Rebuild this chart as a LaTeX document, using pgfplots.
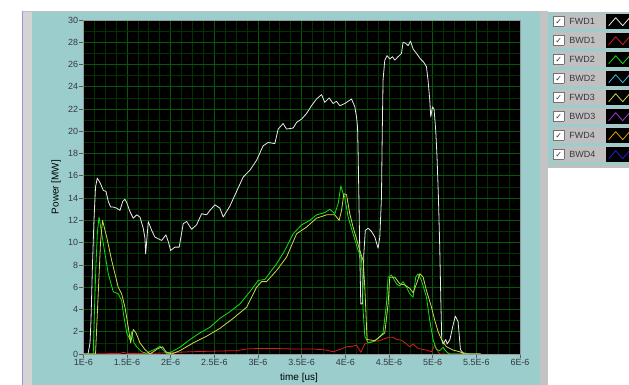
\documentclass[border=0pt]{standalone}
\usepackage{fontspec}
\setmainfont{Liberation Sans}
\newfontfamily\dejavu{DejaVu Sans}
\usepackage{pgfplots}
\pgfplotsset{compat=1.18}
\definecolor{panel}{RGB}{155,205,205}
\definecolor{lgray}{RGB}{212,212,212}
\definecolor{rowgray}{RGB}{192,192,192}
\definecolor{lav}{RGB}{150,150,215}
\definecolor{gmaj}{RGB}{5,88,5}
\definecolor{gmin}{RGB}{0,50,0}
\definecolor{cfwdone}{RGB}{235,235,235}
\definecolor{cbwdone}{RGB}{215,30,30}
\definecolor{cfwdtwo}{RGB}{20,225,20}
\definecolor{cbwdtwo}{RGB}{60,190,230}
\definecolor{cfwdthree}{RGB}{200,220,80}
\definecolor{cbwdthree}{RGB}{160,60,210}
\definecolor{cfwdfour}{RGB}{225,165,0}
\definecolor{cbwdfour}{RGB}{30,30,220}
\definecolor{txt}{RGB}{55,55,65}
\newcommand\chk{{\setlength{\fboxsep}{1bp}\setlength{\fboxrule}{0.6bp}\fcolorbox{black!55}{white}{\makebox[8bp][c]{\raisebox{0pt}[7bp][1bp]{\dejavu\fontsize{8}{8}\selectfont\color{txt}✓}}}}}
\begin{document}
\begin{tikzpicture}
\useasboundingbox (0,0) rectangle (629bp,385bp);
\fill[white] (0,0) rectangle (629bp,385bp);
% left frame
\fill[lgray] (23.3bp,0) rectangle (32bp,372.7bp);
\fill[lgray!90!black] (22bp,372.7bp) rectangle (540bp,374bp);
\draw[lav, line width=1.4bp] (22.6bp,0) -- (22.6bp,374bp);
\fill[panel] (32bp,0) rectangle (540bp,372.7bp);
% right side
\fill[lgray!92!black] (540bp,0) rectangle (548bp,374bp);
\fill[panel] (548bp,220bp) rectangle (629bp,373bp);
\foreach \i in {0,...,7} {
  \fill[rowgray] (552.5bp,{(373-19*\i-17)*1bp}) rectangle (629bp,{(373-19*\i-1.5)*1bp});
}
\fill[black!25] (548bp,217bp) rectangle (629bp,220bp);
\begin{axis}[
  at={(83.3bp,31bp)}, anchor=south west,
  width=436.7bp, height=334bp, scale only axis,
  xmin=1, xmax=6, ymin=0, ymax=30,
  axis background/.style={fill=black},
  xtick={1,1.5,...,6},
  xticklabels={1E-6,1.5E-6,2E-6,2.5E-6,3E-6,3.5E-6,4E-6,4.5E-6,5E-6,5.5E-6,6E-6},
  ytick={0,2,...,30},
  minor x tick num=3, minor y tick num=1,
  grid=both,
  major grid style={draw=gmaj, line width=0.8bp},
  minor grid style={draw=gmin, line width=0.7bp},
  tick align=outside, tick pos=left,
  major tick length=4bp, minor tick length=0pt,
  tick style={draw=black!65, line width=0.8bp},
  axis line style={draw=black!40, line width=0.8bp},
  /pgf/number format/assume math mode=true,
  ticklabel style={font=\fontsize{9}{10}\selectfont, text=txt},
  yticklabel style={inner sep=1bp},
  xticklabel style={inner sep=1.5bp},
  xlabel={time [us]}, ylabel={Power [MW]},
  label style={font=\fontsize{9}{10}\selectfont, text=txt},
  every axis x label/.style={at={(axis description cs:0.494,-0.0725)}, anchor=center},
  every axis y label/.style={at={(axis description cs:-0.0622,0.5)}, rotate=90, anchor=center},
  legend style={at={(axis description cs:1.0687,1.024)}, anchor=north west, draw=none, fill=none,
    inner sep=0pt, row sep=0pt, column sep=8bp, font=\fontsize{9}{10}\selectfont, text=txt,
    nodes={inner xsep=3bp, inner ysep=0bp, text height=12bp, text depth=7bp}},
  legend cell align=left,
  legend plot pos=right,
  legend image code/.code={
    \fill[black] (0bp,-7bp) rectangle (26bp,7bp);
    \draw[#1, line width=0.8bp] (2bp,-4bp) -- (9bp,4bp) -- (16bp,-4bp) -- (23bp,4bp);
  },
  every axis plot/.append style={line width=0.8bp, line join=round},
]
% FWD1
\addplot[cfwdone] table {
1.000 0
1.054 0
1.077 1.0
1.088 3
1.105 8
1.122 12
1.140 15
1.160 15.8
1.191 15.4
1.229 14.7
1.260 14.6
1.286 13.7
1.313 13.2
1.343 13.2
1.382 13.1
1.420 12.9
1.451 13.7
1.477 13.9
1.497 13.6
1.534 12.8
1.572 12.2
1.611 12.5
1.649 12.3
1.686 11.3
1.706 10.4
1.714 9.0
1.744 11.9
1.783 11.1
1.820 10.5
1.897 10.2
1.946 10.7
1.973 10.1
2.000 9.3
2.049 9.6
2.098 9.6
2.144 11.7
2.183 11.9
2.240 11.2
2.297 11.6
2.355 12.6
2.412 12.5
2.450 12.9
2.507 13.4
2.564 13.1
2.602 12.3
2.679 13.3
2.755 14.6
2.831 15.9
2.907 16.5
2.984 17.4
3.059 18.7
3.117 19.0
3.193 18.9
3.231 20.2
3.288 20.7
3.327 20.2
3.403 20.3
3.442 20.8
3.499 21.1
3.556 21.6
3.613 22.3
3.670 22.9
3.728 23.3
3.765 22.6
3.815 23.0
3.860 22.5
3.899 22.7
3.937 22.3
3.994 22.5
4.051 22.8
4.071 22.9
4.109 22.2
4.128 21.3
4.140 20.4
4.146 18.3
4.154 14.7
4.166 9.0
4.177 4.5
4.195 4.5
4.212 9.0
4.229 11.1
4.261 11.3
4.300 11.0
4.338 10.5
4.375 9.5
4.395 10.5
4.414 14.1
4.423 20.0
4.432 24.6
4.452 26.4
4.478 26.8
4.509 26.5
4.540 26.7
4.566 26.4
4.604 26.7
4.643 27.0
4.661 28.0
4.692 27.9
4.719 27.7
4.746 28.1
4.776 27.4
4.815 27.0
4.860 26.5
4.898 26.2
4.929 25.8
4.947 24.6
4.967 22.8
4.978 21.3
4.998 22.2
5.016 22.0
5.035 20.1
5.050 17.7
5.066 14.1
5.081 9.6
5.093 5.1
5.104 1.3
5.119 0.9
5.150 1.3
5.166 0.9
5.198 1.3
5.228 2.4
5.259 3.4
5.291 2.9
5.302 1.9
5.318 0.4
5.348 0.1
5.424 0
5.550 0
};
\addlegendentry{\chk\hspace{5bp}FWD1}
% BWD1
\addplot[cbwdone] table {
1.000 0
1.040 0
1.420 0.05
1.458 0.15
1.510 0.05
1.763 0.05
1.990 0.12
2.220 0.2
2.564 0.27
2.755 0.3
2.870 0.45
3.022 0.5
3.174 0.5
3.403 0.45
3.632 0.45
3.785 0.35
3.860 0.2
3.937 0.4
4.014 0.65
4.089 0.7
4.128 0.8
4.177 0.15
4.223 0.9
4.292 1.1
4.395 1.2
4.490 1.5
4.547 1.5
4.586 1.3
4.643 1.25
4.700 0.9
4.738 0.65
4.776 0.9
4.833 0.5
4.929 0.35
4.987 0.2
5.025 0.8
5.063 0.2
5.081 0
5.550 0
};
\addlegendentry{\chk\hspace{5bp}BWD1}
% FWD2
\addplot[cfwdtwo] table {
1.000 0
1.114 0
1.128 4
1.145 8
1.162 11
1.180 12.3
1.211 10.8
1.248 9.0
1.286 7.2
1.343 5.6
1.400 5.4
1.439 4.8
1.458 3.7
1.497 1.9
1.534 1.3
1.554 2.0
1.580 1.0
1.611 0.65
1.668 0.2
1.725 0.06
1.783 0.3
1.840 0.5
1.878 0.7
1.915 0.35
1.961 0
2.011 0.2
2.106 0.6
2.221 1.3
2.335 1.9
2.450 2.4
2.564 3.2
2.679 3.8
2.793 4.5
2.908 5.6
3.002 6.6
3.079 6.7
3.136 7.3
3.213 8.1
3.307 9.3
3.403 10.8
3.499 11.6
3.594 12.0
3.670 12.5
3.765 12.7
3.823 13.0
3.880 12.6
3.918 13.5
3.949 15.1
3.975 14.4
3.993 14.1
4.032 12.3
4.089 10.8
4.146 9.3
4.185 8.7
4.197 6.0
4.204 3.9
4.223 1.6
4.261 1.0
4.318 1.1
4.375 1.4
4.432 1.9
4.471 4.5
4.490 6.9
4.528 7.1
4.586 6.3
4.624 6.1
4.661 6.5
4.700 6.0
4.738 5.4
4.776 5.1
4.806 6.9
4.833 7.2
4.872 6.6
4.929 5.1
4.967 3.0
5.005 1.3
5.043 0.4
5.081 0.3
5.119 0.6
5.158 0.2
5.196 0
5.550 0
};
\addlegendentry{\chk\hspace{5bp}FWD2}
% BWD2
\addplot[cbwdtwo] table {
1.000 0
5.550 0
};
\addlegendentry{\chk\hspace{5bp}BWD2}
% FWD3
\addplot[cfwdthree] table {
1.000 0
1.140 0
1.157 3
1.180 7
1.197 10
1.220 12.0
1.268 10.5
1.325 8.4
1.400 6.0
1.439 5.4
1.477 4.2
1.515 2.4
1.542 1.0
1.572 2.2
1.603 1.9
1.649 1.0
1.706 0.4
1.763 0
1.858 0.5
1.908 0.65
1.946 0.2
2.011 0
2.106 0.3
2.259 1.0
2.412 1.6
2.564 2.3
2.716 3.2
2.870 4.2
2.984 6.0
3.041 6.5
3.098 6.5
3.213 7.5
3.327 8.7
3.442 10.8
3.556 11.4
3.670 12.2
3.785 12.5
3.880 12.5
3.929 12.0
3.957 12.9
3.983 14.4
4.014 14.3
4.051 12.6
4.089 11.4
4.166 9.3
4.204 8.4
4.223 6.0
4.235 3.9
4.249 1.3
4.338 1.2
4.452 1.9
4.490 4.5
4.509 6.9
4.566 6.9
4.624 6.3
4.681 6.2
4.738 5.9
4.776 5.5
4.815 6.3
4.853 7.2
4.891 6.9
4.929 5.7
4.987 4.2
5.025 3.0
5.063 2.0
5.101 1.3
5.158 0.65
5.234 0.35
5.310 0.2
5.367 0
5.550 0
};
\addlegendentry{\chk\hspace{5bp}FWD3}
\addlegendimage{cbwdthree}
\addlegendentry{\chk\hspace{5bp}BWD3}
\addlegendimage{cfwdfour}
\addlegendentry{\chk\hspace{5bp}FWD4}
\addlegendimage{cbwdfour}
\addlegendentry{\chk\hspace{5bp}BWD4}
\end{axis}
\end{tikzpicture}
\end{document}
